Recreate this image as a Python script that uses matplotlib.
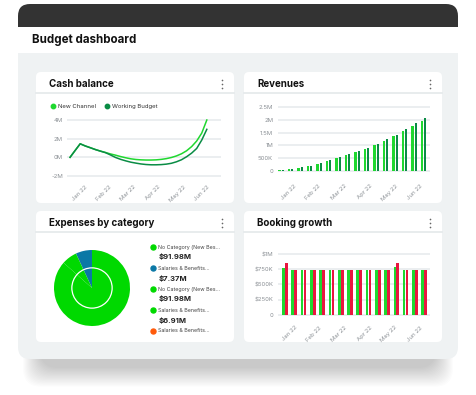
import numpy as np
import matplotlib.pyplot as plt
from matplotlib.patches import FancyBboxPatch, Rectangle, Circle
from matplotlib.lines import Line2D

plt.rcParams['font.family'] = ['Inter', 'DejaVu Sans']

W, H = 476, 395

months = ["Jan 22", "Feb 22", "Mar 22", "Apr 22", "May 22", "Jun 22"]

# cash balance in millions, roughly weekly points
cash_new = [0, 0.73, 1.45, 1.22, 1.03, 0.84, 0.67, 0.52, 0.36, 0.23, 0.08, -0.05, -0.16, -0.23,
            -0.27, -0.29, -0.29, -0.27, -0.22, -0.14, -0.02, 0.15, 0.38, 0.7, 1.15, 1.75, 2.6, 4.0]
cash_work = [0, 0.73, 1.45, 1.22, 1.03, 0.83, 0.66, 0.5, 0.25, -0.02, -0.22, -0.38, -0.52, -0.62,
             -0.71, -0.77, -0.8, -0.8, -0.78, -0.73, -0.64, -0.48, -0.26, 0.06, 0.45, 0.95, 1.85, 3.0]
cash_ticks = [3, 7.6, 12.5, 17.4, 22.3, 27.1]
cash_yticks = [-2, 0, 2, 4]
cash_ylabels = ["-2M", "0M", "2M", "4M"]

# revenues in millions
rev_new = [0.02, 0.06, 0.13, 0.18, 0.29, 0.37, 0.50, 0.64, 0.74, 0.85, 1.01, 1.19, 1.36, 1.55, 1.76, 1.96]
rev_work = [0.02, 0.07, 0.14, 0.19, 0.31, 0.41, 0.53, 0.67, 0.78, 0.91, 1.06, 1.26, 1.42, 1.64, 1.86, 2.09]
rev_ticks = [1.3, 3.9, 6.6, 9.3, 12.0, 14.6]
rev_yticks = [0, 0.5, 1, 1.5, 2, 2.5]
rev_ylabels = ["0", "500K", "1M", "1.5M", "2M", "2.5M"]

# booking growth in $K
book_green = [765, 730, 730, 730, 730, 730, 730, 730, 730, 730, 730, 730, 790, 730, 730, 730]
book_red = [860, 730, 730, 730, 730, 730, 730, 730, 730, 730, 730, 730, 860, 730, 730, 730]
book_ticks = [1.0, 3.7, 6.4, 9.1, 11.8, 14.5]
book_yticks = [0, 250, 500, 750, 1000]
book_ylabels = ["0", "$250K", "$500K", "$750K", "$1M"]

# expenses by category
exp_labels = ["No Category (New Bes...", "Salaries & Benefits...", "No Category (New Bes...",
              "Salaries & Benefits...", "Salaries & Benefits..."]
exp_values = ["$91.98M", "$7.37M", "$91.98M", "$6.91M", None]
pie_values = [91.98, 7.37, 6.91]

GREEN = '#1fd82f'
DARK = '#0a8c45'
PIE_G = '#00d900'
BLUE = '#0b78a6'
ORANGE = '#ff5a0a'
RED = '#e8173f'
exp_colors = [PIE_G, BLUE, PIE_G, PIE_G, ORANGE]
pie_colors = [PIE_G, BLUE, PIE_G]
GRID = '#e7ebed'
TICK = '#8c9196'


def rect(x0, y0, x1, y1):
    return [x0 / W, 1 - y1 / H, (x1 - x0) / W, (y1 - y0) / H]


fig = plt.figure(figsize=(W / 100, H / 100), dpi=100)
bg = fig.add_axes([0, 0, 1, 1])
bg.set_xlim(0, W)
bg.set_ylim(H, 0)
bg.axis('off')

# soft shadow, only shows below the frame
for k in range(18):
    bg.add_patch(FancyBboxPatch((40 - k, 200), 396 + 2 * k, 168 + k * 1.1,
                                boxstyle="round,pad=0,rounding_size=18", fc='black', ec='none',
                                alpha=0.012))

# frame
bg.add_patch(FancyBboxPatch((18, 30), 440, 329, boxstyle="round,pad=0,rounding_size=12",
                            fc='#eff2f3', ec='none'))
bg.add_patch(FancyBboxPatch((18, 4), 440, 40, boxstyle="round,pad=0,rounding_size=12",
                            fc='#333333', ec='none'))
bg.add_patch(Rectangle((18, 27), 440, 26, fc='white', ec='none'))
bg.text(32, 40, "Budget dashboard", fontsize=8.3, fontweight='bold', color='#111111',
        ha='left', va='center')

panels = [(36, 72, 234, 203, "Cash balance"), (244, 72, 442, 203, "Revenues"),
          (36, 211, 234, 342, "Expenses by category"), (244, 211, 442, 342, "Booking growth")]
for x0, y0, x1, y1, title in panels:
    bg.add_patch(FancyBboxPatch((x0, y0), x1 - x0, y1 - y0, boxstyle="round,pad=0,rounding_size=5",
                                fc='white', ec='none'))
    bg.plot([x0, x1], [y0 + 21, y0 + 21], color='#e6eaec', lw=1.3)
    bg.text(x0 + 13, y0 + 12, title, fontsize=7.0, fontweight='bold', color='#111111',
            ha='left', va='center')
    for d in (-4, 0, 4):
        bg.plot(x1 - 12, y0 + 12 + d, 'o', ms=1.2, color='#666666', mew=0)


def style(ax):
    ax.set_facecolor('none')
    for s in ax.spines.values():
        s.set_visible(False)
    ax.tick_params(length=0, labelsize=4.3, labelcolor=TICK)
    ax.grid(axis='y', color=GRID, lw=1.2)
    ax.set_axisbelow(True)


# cash balance
ax1 = fig.add_axes(rect(67, 116, 221, 180))
style(ax1)
cx = np.arange(len(cash_new))
ax1.plot(cx, cash_new, color=GREEN, lw=1.1)
ax1.plot(cx, cash_work, color=DARK, lw=1.1)
ax1.set_xlim(-0.6, 29.8)
ax1.set_ylim(-2.43, 4.43)
ax1.set_yticks(cash_yticks, cash_ylabels)
ax1.set_xticks(cash_ticks, months, rotation=45, ha='right', rotation_mode='anchor')
ax1.tick_params(axis='y', pad=3)
ax1.tick_params(axis='x', pad=3)
handles = [Line2D([], [], ls='none', marker='o', ms=3.2, color=GREEN),
           Line2D([], [], ls='none', marker='o', ms=3.2, color=DARK)]
fig.legend(handles, ["New Channel", "Working Budget"], loc='center left',
           bbox_to_anchor=(51, 106), bbox_transform=bg.transData, ncol=2, frameon=False,
           fontsize=4.3, handlelength=0.6, handletextpad=0.5, columnspacing=1.6,
           labelcolor='#333333', borderpad=0, borderaxespad=0)

# revenues
ax2 = fig.add_axes(rect(278, 104, 430, 175))
style(ax2)
rx = np.arange(len(rev_new))
ax2.bar(rx - 0.16, rev_new, width=0.26, color=GREEN)
ax2.bar(rx + 0.16, rev_work, width=0.26, color=DARK)
ax2.set_xlim(-0.34, 15.66)
ax2.set_ylim(-0.16, 2.62)
ax2.set_yticks(rev_yticks, rev_ylabels)
ax2.set_xticks(rev_ticks, months, rotation=45, ha='right', rotation_mode='anchor')
ax2.tick_params(axis='y', pad=3.5)
ax2.tick_params(axis='x', pad=6)

# booking growth
ax4 = fig.add_axes(rect(278, 250, 430, 318))
style(ax4)
bx = np.arange(len(book_green))
ax4.bar(bx - 0.16, book_green, width=0.29, color=GREEN)
ax4.bar(bx + 0.16, book_red, width=0.29, color=RED)
ax4.set_xlim(-0.76, 15.63)
ax4.set_ylim(-50, 1066)
ax4.set_yticks(book_yticks, book_ylabels)
ax4.set_xticks(book_ticks, months, rotation=45, ha='right', rotation_mode='anchor')
ax4.tick_params(axis='y', pad=3.5)
ax4.tick_params(axis='x', pad=5)

# expenses pie
ax3 = fig.add_axes(rect(54, 250, 130, 326))
share0 = pie_values[0] / sum(pie_values) * 360
ax3.pie(pie_values, colors=pie_colors, startangle=90 - share0, radius=1,
        wedgeprops=dict(linewidth=0))
ax3.add_patch(Circle((0, 0), 0.53, fc='none', ec='white', lw=0.9))
ax3.set_xlim(-1, 1)
ax3.set_ylim(-1, 1)
ax3.set_aspect('equal')
ax3.axis('off')

for i, (lab, val, col) in enumerate(zip(exp_labels, exp_values, exp_colors)):
    y = 247 + i * 21
    bg.plot(153, y, 'o', ms=3.6, color=col)
    bg.text(158.5, y, lab, fontsize=3.8, color='#444444', ha='left', va='center')
    if val:
        bg.text(158.5, y + 10, val, fontsize=5.5, fontweight='bold', color='#222222',
                ha='left', va='center')

fig.savefig('out.png', dpi=100)
